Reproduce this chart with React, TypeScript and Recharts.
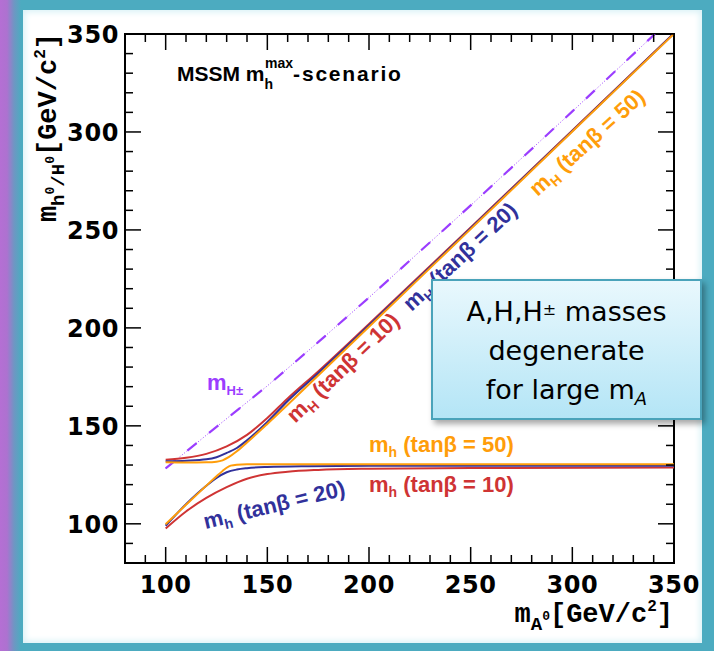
import { LineChart, Line, XAxis, YAxis, ReferenceArea } from "recharts";

// plot frame in px (width, height)
const PW = 549;
const PH = 529;

const xTicks = [90, 100, 110, 120, 130, 140, 150, 160, 170, 180, 190, 200, 210, 220, 230, 240, 250, 260, 270, 280, 290, 300, 310, 320, 330, 340, 350];
const yTicks = [90, 100, 110, 120, 130, 140, 150, 160, 170, 180, 190, 200, 210, 220, 230, 240, 250, 260, 270, 280, 290, 300, 310, 320, 330, 340, 350];
const majorTicks = [100, 150, 200, 250, 300, 350];

// [mA, mass]
const mhTan10 = [[100, 97.6], [110, 106.3], [120, 113.2], [130, 118.7], [140, 123.0], [150, 125.4], [160, 126.6], [175, 127.5], [200, 128.1], [250, 128.5], [350, 128.7]];
const mhTan20 = [[100, 99.0], [110, 110.0], [120, 119.4], [125, 123.4], [130, 126.3], [135, 127.7], [140, 128.4], [150, 129.0], [170, 129.4], [200, 129.6], [350, 129.7]];
const mhTan50 = [[100, 99.8], [110, 109.7], [120, 119.5], [125, 124.3], [128, 127.0], [130, 128.6], [132, 129.7], [135, 130.2], [140, 130.4], [200, 130.4], [350, 130.4]];
const mHTan10 = [[100, 132.7], [110, 133.7], [120, 135.7], [130, 139.5], [140, 145.4], [150, 154.0], [160, 164.0], [175, 177.8], [200, 202.0], [250, 251.3], [300, 300.8], [350, 350.4]];
const mHTan20 = [[100, 131.9], [110, 132.2], [120, 132.9], [125, 134.0], [130, 136.2], [135, 138.7], [140, 142.6], [150, 152.0], [160, 162.7], [175, 176.9], [200, 201.3], [250, 250.9], [300, 300.5], [350, 350.3]];
const mHTan50 = [[100, 131.4], [110, 131.3], [120, 131.4], [125, 131.7], [128, 132.4], [131, 134.0], [135, 137.0], [140, 141.5], [150, 151.0], [160, 160.8], [200, 200.6], [250, 250.4], [300, 300.2], [350, 350.1]];
const mHpm = [[100, 128.3], [125, 149.5], [150, 170.4], [175, 192.7], [200, 215.5], [250, 262.5], [300, 310.5], [340.6, 350]];

const toPoints = (pts: number[][]) => pts.map(([mA, m]) => ({ mA, m }));

const RED = "#cf3434";
const BLUE = "#31319b";
const ORANGE = "#ff9d0a";
const PURPLE = "#9b3dff";

const tickFont = { fontFamily: "DejaVu Sans", fontWeight: "bold" as const, fontSize: 24, letterSpacing: 0.6 };

const XTick = (props: any) => {
  const { x, y, payload } = props;
  const major = majorTicks.includes(payload.value);
  const len = major ? 16 : 8;
  return (
    <g>
      <line x1={x} y1={y} x2={x} y2={y - len} stroke="#000" strokeWidth={1.5} />
      <line x1={x} y1={y - PH} x2={x} y2={y - PH + len} stroke="#000" strokeWidth={1.5} />
      {major && (
        <text x={x} y={y + 30} textAnchor="middle" {...tickFont} fill="#000">
          {payload.value}
        </text>
      )}
    </g>
  );
};

const YTick = (props: any) => {
  const { x, y, payload } = props;
  const major = majorTicks.includes(payload.value);
  const len = major ? 16 : 8;
  return (
    <g>
      <line x1={x} y1={y} x2={x + len} y2={y} stroke="#000" strokeWidth={1.5} />
      <line x1={x + PW} y1={y} x2={x + PW - len} y2={y} stroke="#000" strokeWidth={1.5} />
      {major && (
        <text x={x - 6} y={y + 9} textAnchor="end" {...tickFont} fill="#000">
          {payload.value}
        </text>
      )}
    </g>
  );
};

const lbl = { fontFamily: "Liberation Sans", fontWeight: "bold" as const, fontSize: 22 };
const axT = { fontFamily: "Liberation Mono", fontWeight: "bold" as const, fontSize: 27, fill: "#000" };

export default function App() {
  const common = { type: "monotone" as const, dataKey: "m", dot: false, isAnimationActive: false, strokeWidth: 2 };
  return (
    <div style={{ position: "absolute", left: 0, top: 0, width: 714, height: 651, background: "#4cabc0", overflow: "hidden" }}>
      {/* slide frame */}
      <div style={{ position: "absolute", left: 0, top: 0, width: 24, height: 651, background: "linear-gradient(to right, #b56fd4 0px, #ad72d0 7px, #6f96c3 14px, #4cabc0 21px)" }} />
      <div style={{ position: "absolute", left: 23, top: 10, width: 679, height: 633, background: "#fff", boxShadow: "inset 0 0 6px 2px #d8f1f6" }} />

      <div style={{ position: "absolute", left: 0, top: 0 }}>
        <LineChart width={714} height={651} margin={{ top: 34, right: 40, bottom: 48, left: 65 }}>
          <XAxis
            type="number"
            dataKey="mA"
            domain={[80, 350]}
            ticks={xTicks}
            interval={0}
            height={40}
            tickSize={0}
            tickMargin={0}
            axisLine={false}
            tickLine={false}
            allowDataOverflow
            tick={(p: any) => <XTick {...p} />}
          />
          <YAxis
            type="number"
            domain={[80, 350]}
            ticks={yTicks}
            interval={0}
            width={60}
            tickSize={0}
            tickMargin={0}
            axisLine={false}
            tickLine={false}
            allowDataOverflow
            tick={(p: any) => <YTick {...p} />}
          />
          <ReferenceArea x1={80} x2={350} y1={80} y2={350} fillOpacity={0} stroke="#000" strokeWidth={2} />
          <Line {...common} data={toPoints(mHpm)} type="linear" stroke={PURPLE} strokeWidth={1} strokeDasharray="1 2" />
          <Line {...common} data={toPoints(mHpm)} type="linear" stroke={PURPLE} strokeWidth={2.2} strokeDasharray="12 16" />
          <Line {...common} data={toPoints(mhTan10)} stroke={RED} />
          <Line {...common} data={toPoints(mHTan10)} stroke={RED} />
          <Line {...common} data={toPoints(mhTan20)} stroke={BLUE} />
          <Line {...common} data={toPoints(mHTan20)} stroke={BLUE} />
          <Line {...common} data={toPoints(mhTan50)} stroke={ORANGE} />
          <Line {...common} data={toPoints(mHTan50)} stroke={ORANGE} />
        </LineChart>
      </div>

      {/* annotations */}
      <svg width={714} height={651} style={{ position: "absolute", left: 0, top: 0 }}>
        <text x={177} y={81} {...lbl} fontSize={21} fill="#000">
          MSSM m<tspan fontSize={14} dy={8}>h</tspan>
          <tspan fontSize={14} dx={-8} dy={-21}>max</tspan>
          <tspan dy={13} letterSpacing={1.8}>-scenario</tspan>
        </text>

        <text transform="translate(56,33) rotate(-90)" textAnchor="end" {...axT}>
          m<tspan fontSize={19} dy={8}>h</tspan>
          <tspan fontSize={13} dy={-10}>0</tspan>
          <tspan fontSize={19} dy={10}>/H</tspan>
          <tspan fontSize={13} dy={-10}>0</tspan>
          <tspan dy={2}>[GeV/c</tspan>
          <tspan fontSize={16} dy={-11}>2</tspan>
          <tspan dy={11}>]</tspan>
        </text>
        <text x={673} y={622} textAnchor="end" {...axT}>
          m<tspan fontSize={19} dy={8}>A</tspan>
          <tspan fontSize={13} dy={-10}>0</tspan>
          <tspan dy={2}>[GeV/c</tspan>
          <tspan fontSize={16} dy={-11}>2</tspan>
          <tspan dy={11}>]</tspan>
        </text>

        <text x={207} y={390} {...lbl} fill={PURPLE}>
          m<tspan fontSize={13} dy={5}>H±</tspan>
        </text>
        <text transform="translate(348,373) rotate(-44)" textAnchor="middle" {...lbl} fill={RED}>
          m<tspan fontSize={14} dy={5}>H</tspan>
          <tspan dy={-5}> (tanβ = 10)</tspan>
        </text>
        <text transform="translate(465,262) rotate(-43)" textAnchor="middle" {...lbl} fill={BLUE}>
          m<tspan fontSize={14} dy={5}>H</tspan>
          <tspan dy={-5}> (tanβ = 20)</tspan>
        </text>
        <text transform="translate(592,148) rotate(-42)" textAnchor="middle" {...lbl} fill={ORANGE}>
          m<tspan fontSize={14} dy={5}>H</tspan>
          <tspan dy={-5}> (tanβ = 50)</tspan>
        </text>
        <text x={369} y={452} {...lbl} fill={ORANGE}>
          m<tspan fontSize={14} dy={5}>h</tspan>
          <tspan dy={-5}> (tanβ = 50)</tspan>
        </text>
        <text x={369} y={492} {...lbl} fill={RED}>
          m<tspan fontSize={14} dy={5}>h</tspan>
          <tspan dy={-5}> (tanβ = 10)</tspan>
        </text>
        <text transform="translate(276,512) rotate(-13.5)" textAnchor="middle" {...lbl} fill={BLUE}>
          m<tspan fontSize={14} dy={5}>h</tspan>
          <tspan dy={-5}> (tanβ = 20)</tspan>
        </text>
      </svg>

      {/* callout box */}
      <div
        style={{
          position: "absolute",
          left: 431,
          top: 279,
          width: 271,
          height: 141,
          boxSizing: "border-box",
          border: "2px solid #4aa3ba",
          background: "linear-gradient(#e9f8fd, #b4e5f6)",
          boxShadow: "3px 4px 6px rgba(0,0,0,0.35)",
          fontFamily: "DejaVu Sans",
          fontSize: 27,
          lineHeight: "39px",
          textAlign: "center",
          color: "#000",
          paddingTop: 9,
        }}
      >
        <div>
          A,H,H<span style={{ fontSize: 16, verticalAlign: 6 }}>±</span> masses
        </div>
        <div>degenerate</div>
        <div>
          for large m<span style={{ fontSize: 18, fontStyle: "italic", verticalAlign: -6 }}>A</span>
        </div>
      </div>
    </div>
  );
}
